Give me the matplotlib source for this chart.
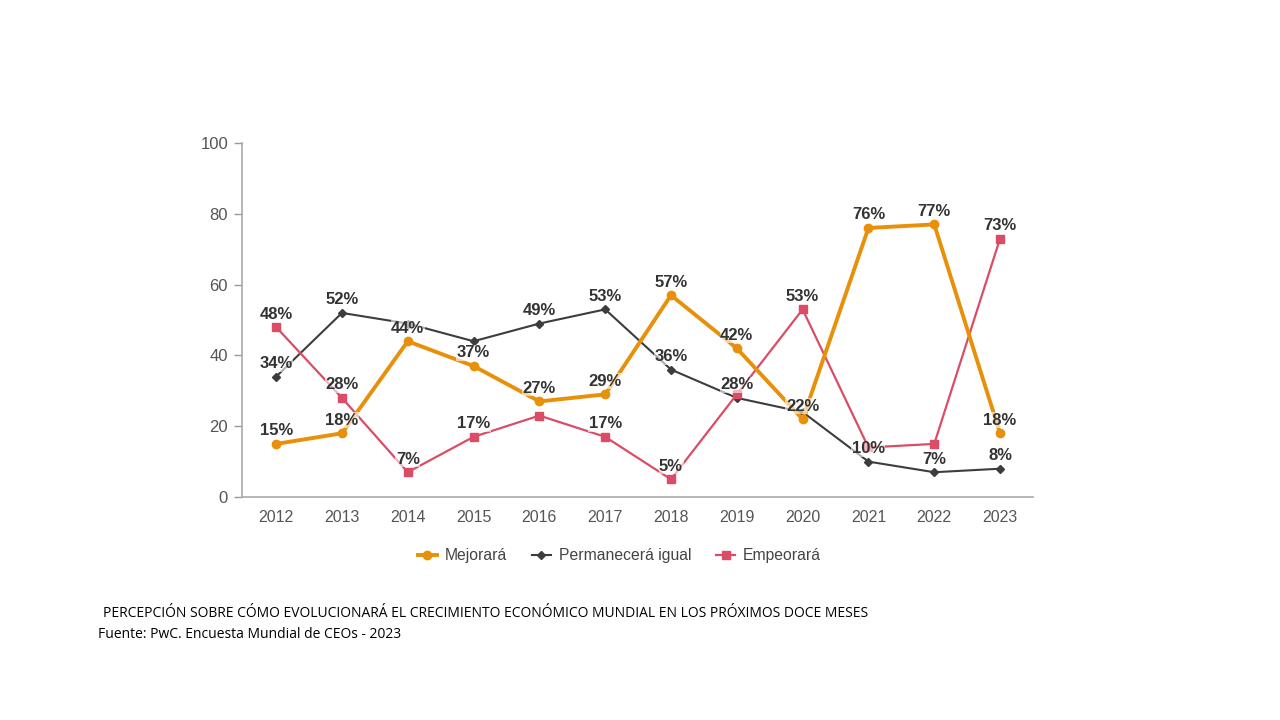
import matplotlib.pyplot as plt

# values
years = [2012, 2013, 2014, 2015, 2016, 2017, 2018, 2019, 2020, 2021, 2022, 2023]
mejorara = [15, 18, 44, 37, 27, 29, 57, 42, 22, 76, 77, 18]
permanecera = [34, 52, 49, 44, 49, 53, 36, 28, 24, 10, 7, 8]
empeorara = [48, 28, 7, 17, 23, 17, 5, 29, 53, 14, 15, 73]

# which points carry a visible % label
lab_mej = [1, 1, 1, 1, 1, 1, 1, 1, 1, 1, 1, 1]
lab_per = [1, 1, 0, 0, 1, 1, 1, 1, 0, 1, 1, 1]
lab_emp = [1, 1, 1, 1, 0, 1, 1, 0, 1, 0, 0, 1]

series_names = ['Mejorará', 'Permanecerá igual', 'Empeorará']
title_text = ('PERCEPCIÓN SOBRE CÓMO EVOLUCIONARÁ EL CRECIMIENTO ECONÓMICO '
              'MUNDIAL EN LOS PRÓXIMOS DOCE MESES')
source_text = 'Fuente: PwC. Encuesta Mundial de CEOs - 2023'

ORANGE = '#E8900A'
DARK = '#3d3d3d'
RED = '#DB4C66'


def main():
    plt.rcParams['font.family'] = ['Liberation Sans', 'DejaVu Sans']
    fig = plt.figure(figsize=(12.8, 7.2), dpi=100)
    ax = fig.add_axes([0.189, 0.3097, 0.618, 0.4917])

    ax.plot(years, mejorara, color=ORANGE, lw=2.8, marker='o', ms=6,
            label=series_names[0], zorder=3)
    ax.plot(years, permanecera, color=DARK, lw=1.5, marker='D', ms=4,
            label=series_names[1], zorder=2)
    ax.plot(years, empeorara, color=RED, lw=1.6, marker='s', ms=6,
            label=series_names[2], zorder=2)

    # labels sit on a faded white patch, like the original
    for vals, flags in [(mejorara, lab_mej), (permanecera, lab_per),
                        (empeorara, lab_emp)]:
        for x, v, f in zip(years, vals, flags):
            if f:
                ax.annotate('%d%%' % v, (x, v), xytext=(0, 4),
                            textcoords='offset points', ha='center',
                            va='bottom', fontsize=12, fontweight='bold',
                            color='#333333', zorder=5,
                            bbox=dict(fc='white', ec='none', alpha=0.6,
                                      pad=0.4))

    ax.set_xlim(2011.48, 2023.5)
    ax.set_ylim(0, 100)
    ax.set_xticks(years)
    ax.set_yticks([0, 20, 40, 60, 80, 100])
    ax.tick_params(axis='x', length=0, pad=9, labelsize=11.5,
                   labelcolor='#555555')
    ax.tick_params(axis='y', length=6, color='#999999', width=1, pad=4,
                   labelsize=12, labelcolor='#555555')
    for s in ['top', 'right']:
        ax.spines[s].set_visible(False)
    for s in ['left', 'bottom']:
        ax.spines[s].set_color('#aaaaaa')
        ax.spines[s].set_linewidth(1.2)

    fig.legend(loc='center', bbox_to_anchor=(0.484, 0.228), ncol=3,
               frameon=False, fontsize=11.3, handlelength=1.2,
               columnspacing=1.6, handletextpad=0.5,
               labelcolor='#444444')

    fig.text(0.0805, 0.148, title_text, fontsize=10, color='black',
             family=['Open Sans', 'DejaVu Sans'], va='center')
    fig.text(0.0765, 0.119, source_text, fontsize=10, color='black',
             family=['Open Sans', 'DejaVu Sans'], va='center')

    fig.savefig('out.png', dpi=100)


if __name__ == '__main__':
    main()
